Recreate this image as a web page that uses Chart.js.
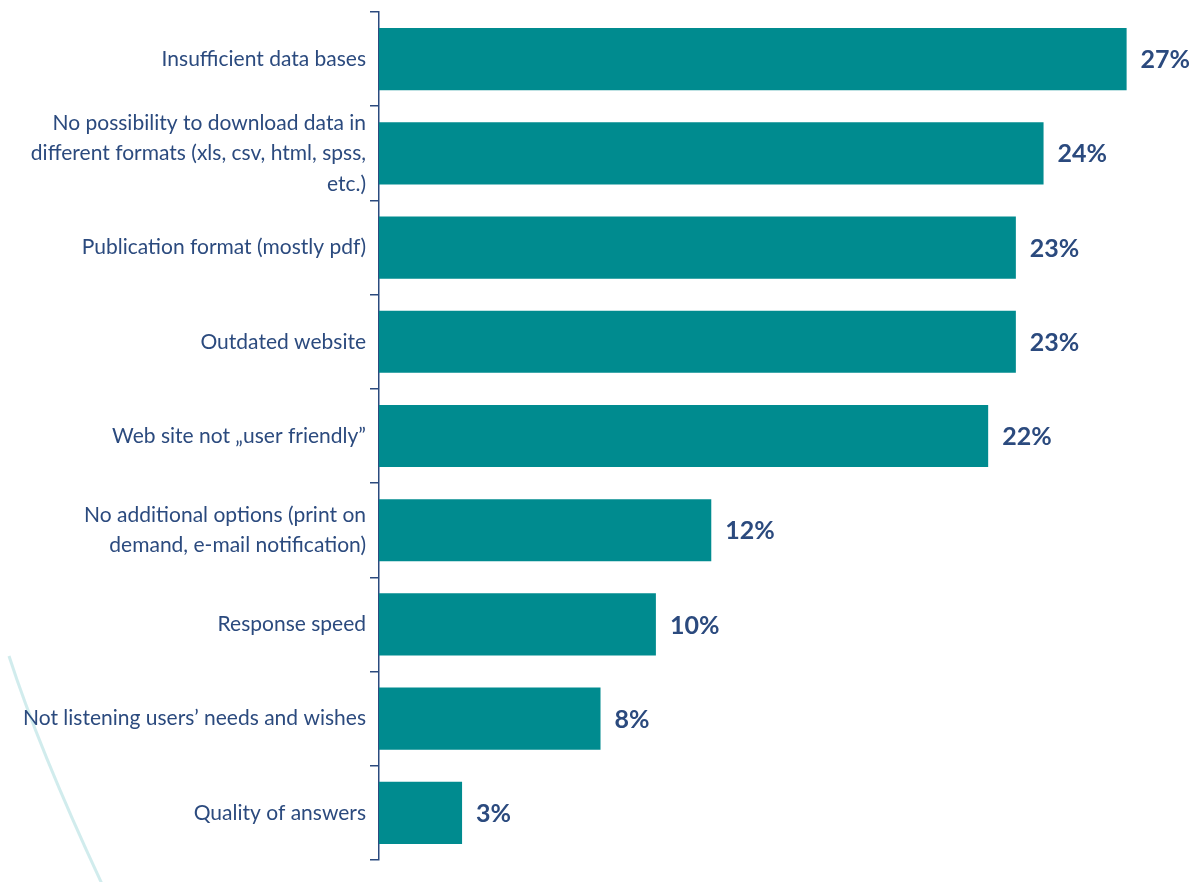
<!DOCTYPE html>
<html>
<head>
<meta charset="utf-8">
<title>Main problems with data access</title>
<script src="https://cdn.jsdelivr.net/npm/chart.js@4.4.1/dist/chart.umd.min.js"></script>
<style>
  html, body { margin: 0; padding: 0; background: #ffffff; }
  .wrap { width: 1194px; height: 882px; position: relative; }
</style>
</head>
<body>
<div class="wrap"><canvas id="problemsChart"></canvas></div>
<script>
/* ── Data ── */
const CATEGORIES = [
  'Insufficient data bases',
  ['No possibility to download data in', 'different formats (xls, csv, html, spss,', 'etc.)'],
  'Publication format (mostly pdf)',
  'Outdated website',
  'Web site not \u201euser friendly\u201d',
  ['No additional options (print on', 'demand, e-mail notification)'],
  'Response speed',
  'Not listening users\u2019 needs and wishes',
  'Quality of answers'
];
const SHARES = [27, 24, 23, 23, 22, 12, 10, 8, 3];

const TEAL = '#008b8f';
const NAVY = '#2b4a7e';

/* ── Value labels at bar ends ── */
const valueLabels = {
  id: 'valueLabels',
  afterDatasetsDraw(chart) {
    const ctx = chart.ctx;
    const meta = chart.getDatasetMeta(0);
    ctx.save();
    ctx.fillStyle = NAVY;
    ctx.font = 'bold 25px Lato';
    ctx.textAlign = 'left';
    ctx.textBaseline = 'middle';
    meta.data.forEach((bar, i) => {
      ctx.fillText(SHARES[i] + '%', bar.x + 14, bar.y + 1);
    });
    ctx.restore();
  }
};

/* ── Faint decorative swoosh, bottom left ── */
const swoosh = {
  id: 'swoosh',
  beforeDraw(chart) {
    const ctx = chart.ctx;
    ctx.save();
    ctx.strokeStyle = 'rgba(190,228,230,0.7)';
    ctx.lineWidth = 3;
    ctx.beginPath();
    ctx.moveTo(9, 656);
    ctx.quadraticCurveTo(39, 749, 102, 884);
    ctx.stroke();
    ctx.restore();
  }
};

new Chart(document.getElementById('problemsChart'), {
  type: 'bar',
  data: {
    labels: CATEGORIES,
    datasets: [{
      data: SHARES,
      backgroundColor: TEAL,
      borderWidth: 0,
      categoryPercentage: 1,
      barPercentage: 0.66
    }]
  },
  options: {
    indexAxis: 'y',
    responsive: true,
    maintainAspectRatio: false,
    animation: false,
    layout: { padding: { top: 12, bottom: 22, left: 0, right: 12 } },
    plugins: {
      legend: { display: false },
      tooltip: { enabled: false }
    },
    scales: {
      x: {
        display: false,
        min: 0,
        max: 29
      },
      y: {
        // fixed label column; labels sit inside their bands so no extra edge padding
        afterFit(scale) {
          scale.width = 379;
          scale.paddingTop = 0;
          scale.paddingBottom = 0;
        },
        grid: {
          offset: true,
          drawOnChartArea: false,
          drawTicks: true,
          tickLength: 9,
          color: NAVY,
          lineWidth: 1.5
        },
        border: { display: true, color: NAVY, width: 1.5 },
        ticks: {
          padding: 4,
          color: NAVY,
          autoSkip: false,
          font: { family: 'Lato', size: 21, lineHeight: 1.45 }
        }
      }
    }
  },
  plugins: [swoosh, valueLabels]
});
</script>
</body>
</html>
